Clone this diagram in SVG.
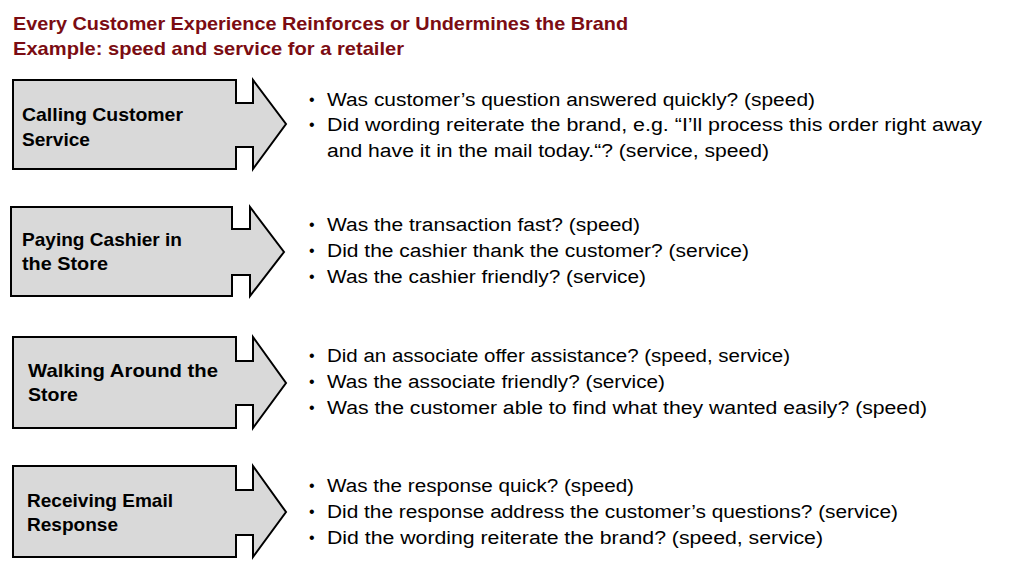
<svg xmlns="http://www.w3.org/2000/svg" width="1034" height="561" viewBox="0 0 1034 561">
<style>
.title{font-family:"Liberation Sans",Arial,sans-serif;font-weight:bold;font-size:19px;fill:#7B0C12}
.arrow{fill:#D9D9D9;stroke:#000;stroke-width:2;stroke-linejoin:miter}
.lbl{font-family:"Liberation Sans",Arial,sans-serif;font-weight:bold;font-size:19px;fill:#000}
.txt{font-family:"Liberation Sans",Arial,sans-serif;font-size:18px;fill:#000}
.bul{font-family:"Liberation Sans",Arial,sans-serif;font-size:16px;fill:#000}
</style>
<rect width="1034" height="561" fill="#fff"/>
<g id="title">
<text class="title" x="13" y="30" textLength="615" lengthAdjust="spacingAndGlyphs">Every Customer Experience Reinforces or Undermines the Brand</text>
<text class="title" x="13" y="55" textLength="391" lengthAdjust="spacingAndGlyphs">Example: speed and service for a retailer</text>
</g>
<g id="node-calling">
<path class="arrow" d="M13,80 H236 V103 H253 V80 L286,124 L253,169 V147 H236 V169 H13 Z"/>
<text class="lbl" x="22" y="121" textLength="161" lengthAdjust="spacingAndGlyphs">Calling Customer</text>
<text class="lbl" x="22" y="146" textLength="68" lengthAdjust="spacingAndGlyphs">Service</text>
</g>
<g id="node-paying">
<path class="arrow" d="M11,207 H232 V229 H250 V207 L284,252 L250,296 V275 H232 V296 H11 Z"/>
<text class="lbl" x="22" y="246" textLength="160" lengthAdjust="spacingAndGlyphs">Paying Cashier in</text>
<text class="lbl" x="22" y="270" textLength="86" lengthAdjust="spacingAndGlyphs">the Store</text>
</g>
<g id="node-walking">
<path class="arrow" d="M13,337 H236 V361 H253 V337 L286,383 L253,428 V405 H236 V428 H13 Z"/>
<text class="lbl" x="28" y="377" textLength="190" lengthAdjust="spacingAndGlyphs">Walking Around the</text>
<text class="lbl" x="28" y="401" textLength="50" lengthAdjust="spacingAndGlyphs">Store</text>
</g>
<g id="node-email">
<path class="arrow" d="M13,466 H236 V490 H253 V466 L286,512 L253,557 V535 H236 V557 H13 Z"/>
<text class="lbl" x="27" y="507" textLength="146" lengthAdjust="spacingAndGlyphs">Receiving Email</text>
<text class="lbl" x="27" y="531" textLength="91" lengthAdjust="spacingAndGlyphs">Response</text>
</g>
<g id="connectors"></g>
<g id="bullets-calling">
<text class="bul" x="309" y="105">•</text>
<text class="txt" x="327" y="106" textLength="488" lengthAdjust="spacingAndGlyphs">Was customer’s question answered quickly? (speed)</text>
<text class="bul" x="309" y="130">•</text>
<text class="txt" x="327" y="131" textLength="655" lengthAdjust="spacingAndGlyphs">Did wording reiterate the brand, e.g. “I’ll process this order right away</text>
<text class="txt" x="327" y="157" textLength="442" lengthAdjust="spacingAndGlyphs">and have it in the mail today.“? (service, speed)</text>
</g>
<g id="bullets-paying">
<text class="bul" x="309" y="230">•</text>
<text class="txt" x="327" y="231" textLength="313" lengthAdjust="spacingAndGlyphs">Was the transaction fast? (speed)</text>
<text class="bul" x="309" y="256">•</text>
<text class="txt" x="327" y="257" textLength="422" lengthAdjust="spacingAndGlyphs">Did the cashier thank the customer? (service)</text>
<text class="bul" x="309" y="282">•</text>
<text class="txt" x="327" y="283" textLength="319" lengthAdjust="spacingAndGlyphs">Was the cashier friendly? (service)</text>
</g>
<g id="bullets-walking">
<text class="bul" x="309" y="361">•</text>
<text class="txt" x="327" y="362" textLength="463" lengthAdjust="spacingAndGlyphs">Did an associate offer assistance? (speed, service)</text>
<text class="bul" x="309" y="387">•</text>
<text class="txt" x="327" y="388" textLength="338" lengthAdjust="spacingAndGlyphs">Was the associate friendly? (service)</text>
<text class="bul" x="309" y="413">•</text>
<text class="txt" x="327" y="414" textLength="600" lengthAdjust="spacingAndGlyphs">Was the customer able to find what they wanted easily? (speed)</text>
</g>
<g id="bullets-email">
<text class="bul" x="309" y="491">•</text>
<text class="txt" x="327" y="492" textLength="307" lengthAdjust="spacingAndGlyphs">Was the response quick? (speed)</text>
<text class="bul" x="309" y="517">•</text>
<text class="txt" x="327" y="518" textLength="571" lengthAdjust="spacingAndGlyphs">Did the response address the customer’s questions? (service)</text>
<text class="bul" x="309" y="543">•</text>
<text class="txt" x="327" y="544" textLength="496" lengthAdjust="spacingAndGlyphs">Did the wording reiterate the brand? (speed, service)</text>
</g>
</svg>
